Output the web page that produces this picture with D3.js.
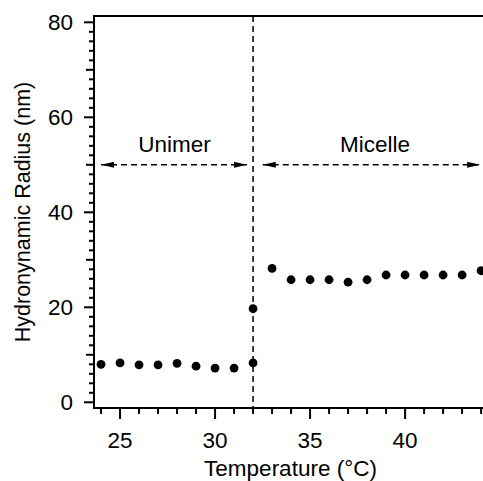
<!DOCTYPE html>
<html>
<head>
<meta charset="utf-8">
<script src="https://cdn.jsdelivr.net/npm/d3@7"></script>
<style>
  html, body { margin: 0; padding: 0; background: #fff; }
  svg { display: block; }
  text { font-family: "Liberation Sans", Arial, Helvetica, sans-serif; fill: #000; }
</style>
</head>
<body>
<script>
// ---- data ----
const temperature = [24, 25, 26, 27, 28, 29, 30, 31, 32, 32, 33, 34, 35, 36, 37, 38, 39, 40, 41, 42, 43, 44];
const radius      = [8.0, 8.3, 7.9, 7.9, 8.2, 7.6, 7.2, 7.2, 8.3, 19.7, 28.2, 25.8, 25.8, 25.8, 25.3, 25.8, 26.8, 26.8, 26.8, 26.8, 26.8, 27.7];
const xTicks = [25, 30, 35, 40];
const yTicks = [0, 20, 40, 60, 80];
const transitionT = 32;
const regionLabels = ["Unimer", "Micelle"];
const regionFrom = [24, 32.51];
const regionTo = [31.68, 43.95];
const regionArrowY = 50;

const W = 483, H = 481;
const mL = 94, mR = 483, mT = 16, mB = 408;
const FS = 22.5;

const x = d3.scaleLinear().domain([23.63, 44.1]).range([mL, mR]);
const y = d3.scaleLinear().domain([-1.2, 81.33]).range([mB, mT]);

const svg = d3.select("body").append("svg").attr("width", W).attr("height", H);

// frame: top line
svg.append("line").attr("x1", mL).attr("x2", W).attr("y1", mT).attr("y2", mT)
  .attr("stroke", "#000").attr("stroke-width", 2);

// y axis
const yMinor = d3.range(0, 82, 2);
const yAxisG = svg.append("g");
yAxisG.selectAll("line.t").data(yMinor).join("line")
  .attr("x1", d => d % 20 === 0 ? mL - 10 : (d % 10 === 0 ? mL - 8 : mL - 5))
  .attr("x2", mL)
  .attr("y1", d => y(d)).attr("y2", d => y(d))
  .attr("stroke", "#000").attr("stroke-width", 2);
yAxisG.append("line").attr("x1", mL).attr("x2", mL).attr("y1", mT - 1).attr("y2", mB + 1)
  .attr("stroke", "#000").attr("stroke-width", 2);
yAxisG.selectAll("text").data(yTicks).join("text")
  .attr("x", mL - 21).attr("y", d => y(d)).attr("dy", "0.36em")
  .attr("text-anchor", "end").attr("font-size", FS).text(d => d);

// x axis
const xMinor = d3.range(24, 45, 1);
const xAxisG = svg.append("g");
xAxisG.selectAll("line.t").data(xMinor).join("line")
  .attr("x1", d => x(d)).attr("x2", d => x(d))
  .attr("y1", mB).attr("y2", d => d % 5 === 0 ? mB + 11 : mB + 6)
  .attr("stroke", "#000").attr("stroke-width", 2);
xAxisG.append("line").attr("x1", mL - 1).attr("x2", W).attr("y1", mB).attr("y2", mB)
  .attr("stroke", "#000").attr("stroke-width", 2);
xAxisG.selectAll("text").data(xTicks).join("text")
  .attr("x", d => x(d)).attr("y", 448)
  .attr("text-anchor", "middle").attr("font-size", FS).text(d => d);

// axis titles
svg.append("text").attr("x", 290.5).attr("y", 476)
  .attr("text-anchor", "middle").attr("font-size", FS).text("Temperature (°C)");
svg.append("text").attr("transform", `translate(30,${(mT + mB) / 2}) rotate(-90)`)
  .attr("text-anchor", "middle").attr("font-size", 21.5).text("Hydronynamic Radius (nm)");

// transition dashed line
svg.append("line").attr("x1", x(transitionT)).attr("x2", x(transitionT))
  .attr("y1", mT).attr("y2", mB)
  .attr("stroke", "#000").attr("stroke-width", 1.5).attr("stroke-dasharray", "6,4");

// region arrows
const defs = svg.append("defs");
defs.append("marker").attr("id", "ah").attr("viewBox", "0 0 13 6")
  .attr("refX", 13).attr("refY", 3).attr("markerWidth", 13).attr("markerHeight", 6)
  .attr("markerUnits", "userSpaceOnUse").attr("orient", "auto-start-reverse")
  .append("path").attr("d", "M0,0 L13,3 L0,6 Z").attr("fill", "#000");

regionLabels.forEach((lab, i) => {
  svg.append("line")
    .attr("x1", x(regionFrom[i])).attr("x2", x(regionTo[i]))
    .attr("y1", y(regionArrowY)).attr("y2", y(regionArrowY))
    .attr("stroke", "#000").attr("stroke-width", 1.5).attr("stroke-dasharray", "6,4")
    .attr("marker-start", "url(#ah)").attr("marker-end", "url(#ah)");
  svg.append("text")
    .attr("x", i === 0 ? 174.5 : 375).attr("y", 151.5)
    .attr("text-anchor", "middle").attr("font-size", FS).text(lab);
});

// points
svg.append("g").selectAll("circle").data(temperature).join("circle")
  .attr("cx", d => x(d)).attr("cy", (d, i) => y(radius[i])).attr("r", 4.4)
  .attr("fill", "#000");
</script>
</body>
</html>
